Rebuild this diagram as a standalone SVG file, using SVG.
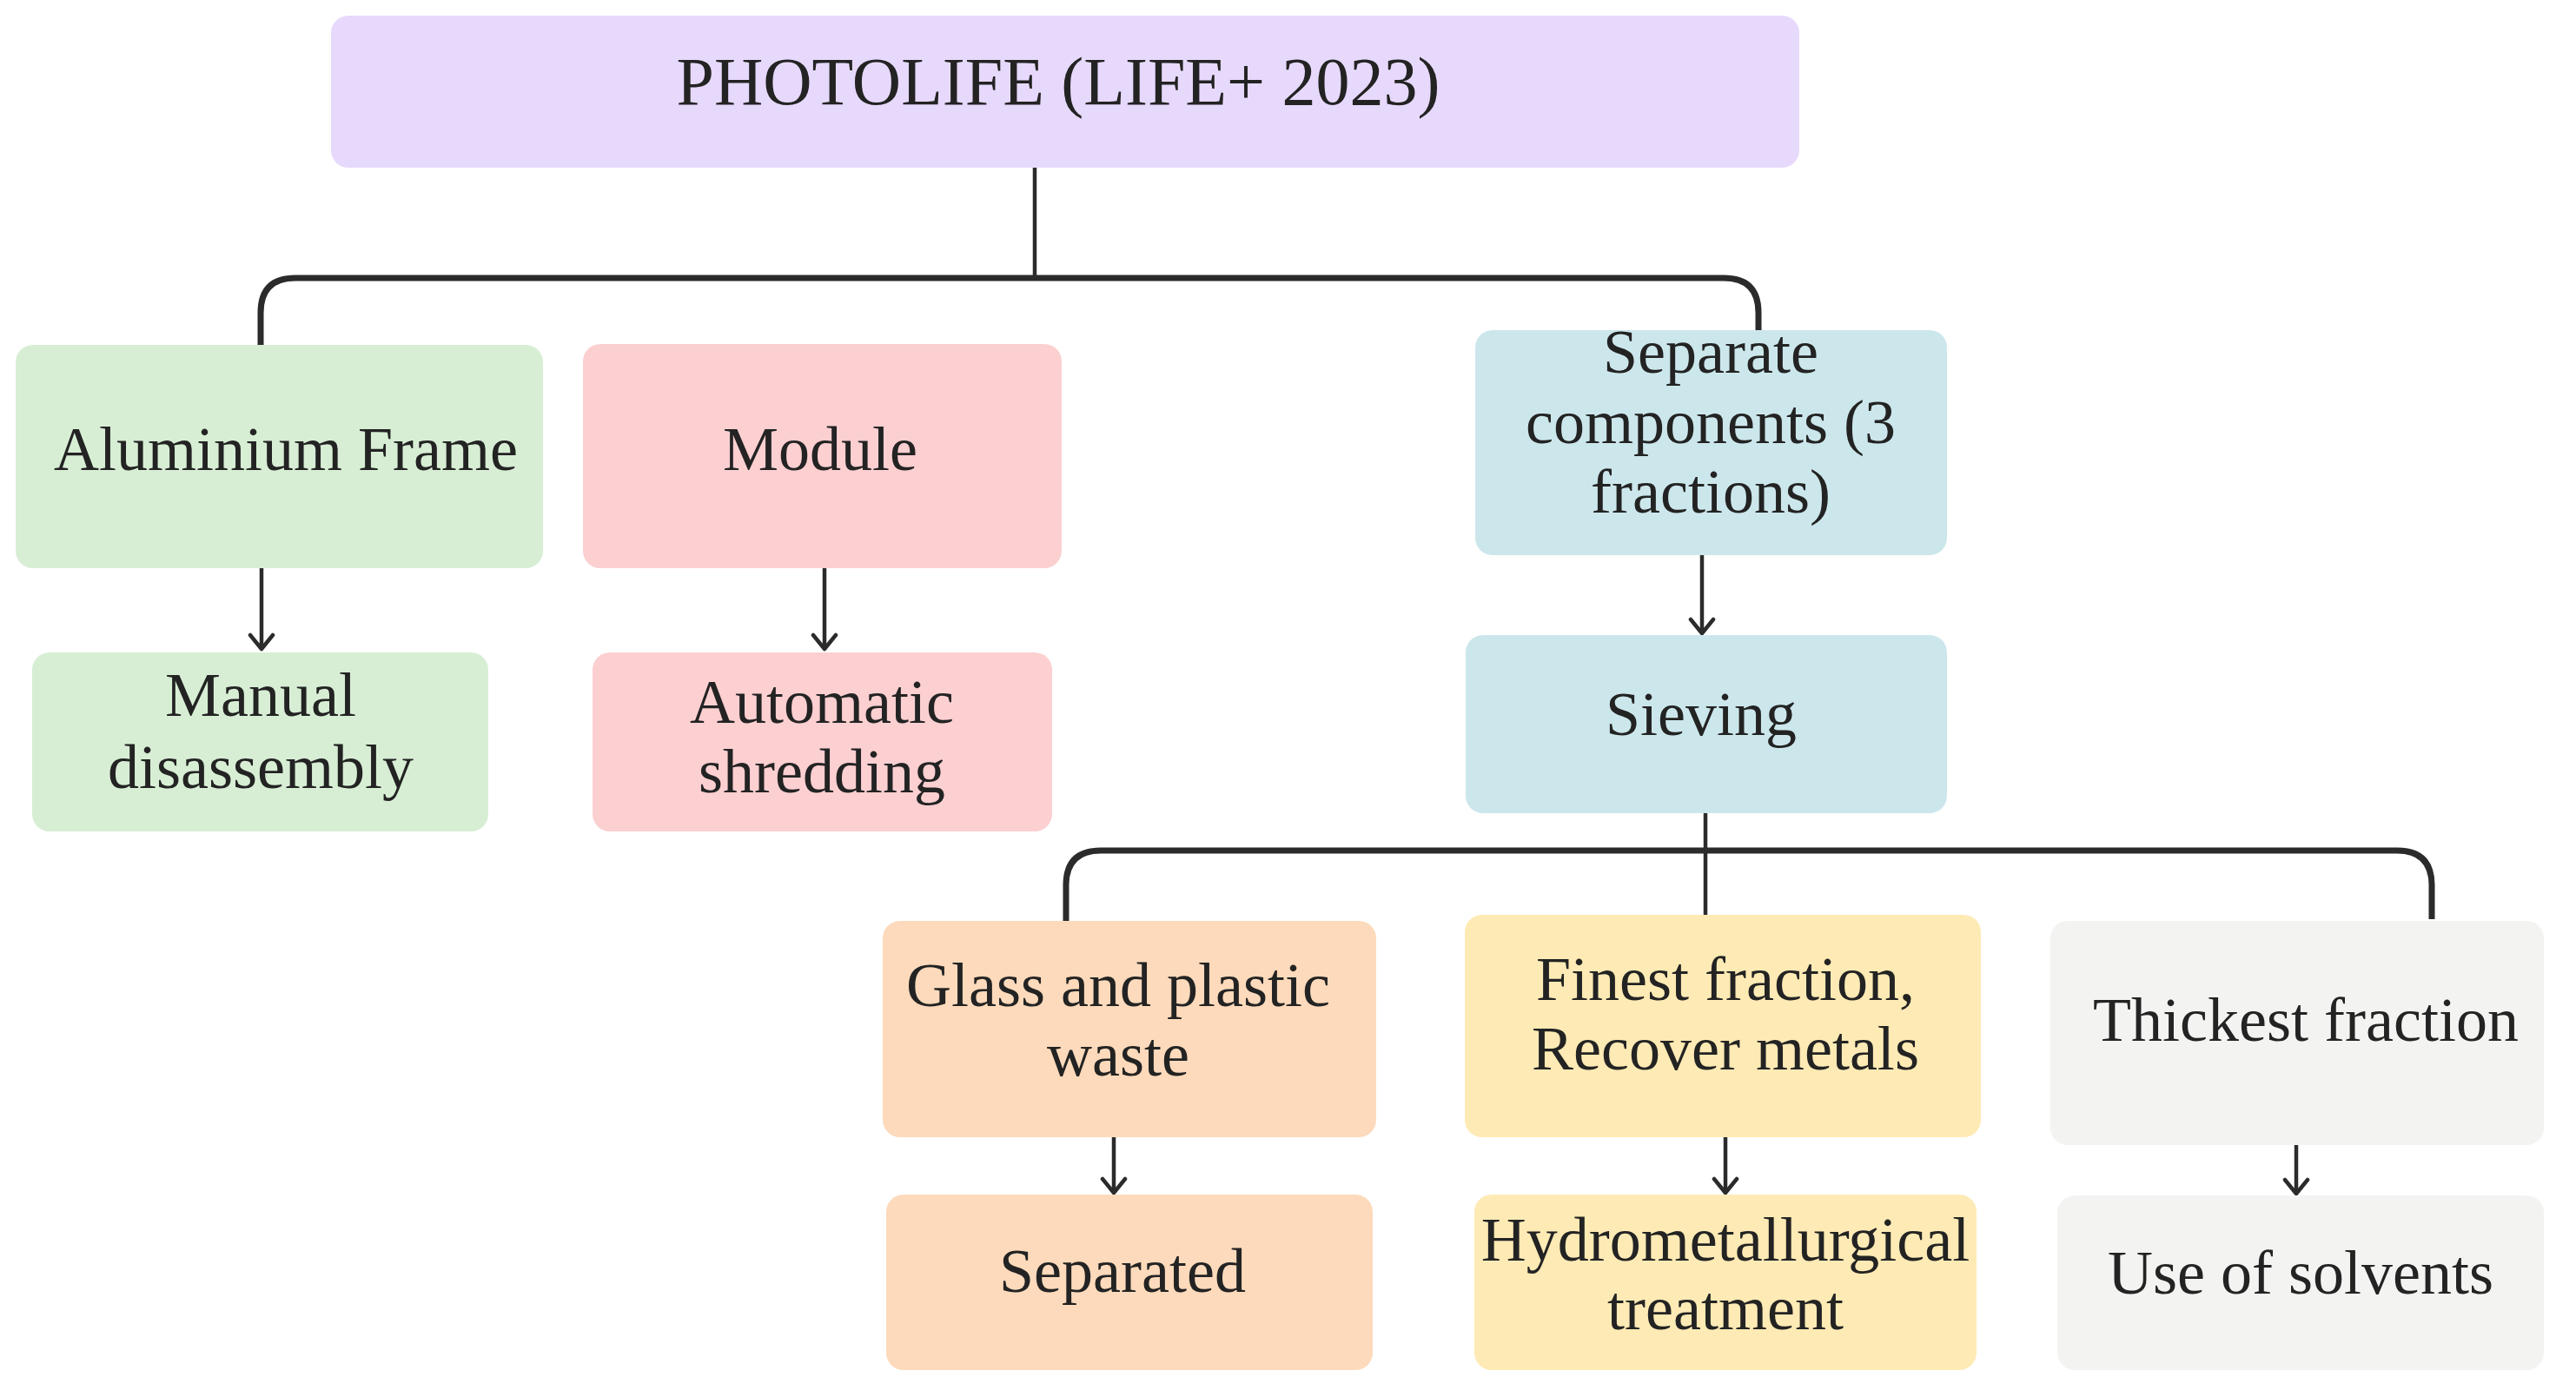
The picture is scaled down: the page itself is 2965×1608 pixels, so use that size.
<svg xmlns="http://www.w3.org/2000/svg" width="2965" height="1608" viewBox="0 0 2965 1608">
<style>
.t{font-family:"Liberation Serif","Times New Roman",serif;font-size:72px;fill:#232323;text-anchor:middle}
.tt{font-size:78px}
.bus{fill:none;stroke:#2b2b2b;stroke-width:7;stroke-linejoin:round}
.ln{fill:none;stroke:#2b2b2b;stroke-width:4.5}
.ar{fill:none;stroke:#2b2b2b;stroke-width:4.5;marker-end:url(#ah)}
</style>
<defs>
<marker id="ah" markerUnits="userSpaceOnUse" markerWidth="22" markerHeight="32" refX="19" refY="16" orient="auto" viewBox="0 0 22 32">
<path d="M3,3 L19,16 L3,29" fill="none" stroke="#2b2b2b" stroke-width="4.5" stroke-linecap="round" stroke-linejoin="round"/>
</marker>
</defs>
<rect width="2965" height="1608" fill="#ffffff"/>
<g id="connectors">
<path class="ln" d="M1191,193 V322"/>
<path class="bus" d="M300,397 V360 Q300,320 340,320 H1984 Q2024,320 2024,360 V380"/>
<path class="ar" d="M301,654 V747"/>
<path class="ar" d="M949,654 V747"/>
<path class="ar" d="M1959,639 V729"/>
<path class="ln" d="M1963,936 V1053"/>
<path class="bus" d="M1227,1060 V1019 Q1227,979 1267,979 H2759 Q2799,979 2799,1019 V1058"/>
<path class="ar" d="M1282,1309 V1373"/>
<path class="ar" d="M1986,1309 V1373"/>
<path class="ar" d="M2643,1318 V1374"/>
</g>
<g id="title">
<rect x="381" y="18" width="1690" height="175" rx="20" fill="#E7D9FC"/>
<text class="t tt" x="1218" y="120">PHOTOLIFE (LIFE+ 2023)</text>
</g>
<g id="aluminium">
<rect x="18" y="397" width="607" height="257" rx="20" fill="#D7EED4"/>
<text class="t" x="329" y="541">Aluminium Frame</text>
</g>
<g id="module">
<rect x="671" y="396" width="551" height="258" rx="20" fill="#FCCFD1"/>
<text class="t" x="944" y="541">Module</text>
</g>
<g id="separate">
<rect x="1698" y="380" width="543" height="259" rx="20" fill="#CCE7EC"/>
<text class="t" x="1969" y="429">Separate</text>
<text class="t" x="1969" y="510">components (3</text>
<text class="t" x="1969" y="590">fractions)</text>
</g>
<g id="manual">
<rect x="37" y="751" width="525" height="206" rx="20" fill="#D7EED4"/>
<text class="t" x="300" y="824">Manual</text>
<text class="t" x="300" y="907">disassembly</text>
</g>
<g id="automatic">
<rect x="682" y="751" width="529" height="206" rx="20" fill="#FCCFD1"/>
<text class="t" x="946" y="832">Automatic</text>
<text class="t" x="946" y="912">shredding</text>
</g>
<g id="sieving">
<rect x="1687" y="731" width="554" height="205" rx="20" fill="#CCE7EC"/>
<text class="t" x="1958" y="846">Sieving</text>
</g>
<g id="glass">
<rect x="1016" y="1060" width="568" height="249" rx="20" fill="#FDDABB"/>
<text class="t" x="1287" y="1158">Glass and plastic</text>
<text class="t" x="1287" y="1238">waste</text>
</g>
<g id="finest">
<rect x="1686" y="1053" width="594" height="256" rx="20" fill="#FEEAB4"/>
<text class="t" x="1986" y="1151">Finest fraction,</text>
<text class="t" x="1986" y="1231">Recover metals</text>
</g>
<g id="thickest">
<rect x="2360" y="1060" width="568" height="258" rx="20" fill="#F3F3F2"/>
<text class="t" x="2654" y="1198">Thickest fraction</text>
</g>
<g id="separated">
<rect x="1020" y="1375" width="560" height="202" rx="20" fill="#FDDABB"/>
<text class="t" x="1292" y="1487">Separated</text>
</g>
<g id="hydro">
<rect x="1697" y="1375" width="578" height="202" rx="20" fill="#FEEAB4"/>
<text class="t" x="1986" y="1451">Hydrometallurgical</text>
<text class="t" x="1986" y="1530">treatment</text>
</g>
<g id="solvents">
<rect x="2368" y="1376" width="560" height="201" rx="20" fill="#F3F3F2"/>
<text class="t" x="2648" y="1489">Use of solvents</text>
</g>
</svg>
